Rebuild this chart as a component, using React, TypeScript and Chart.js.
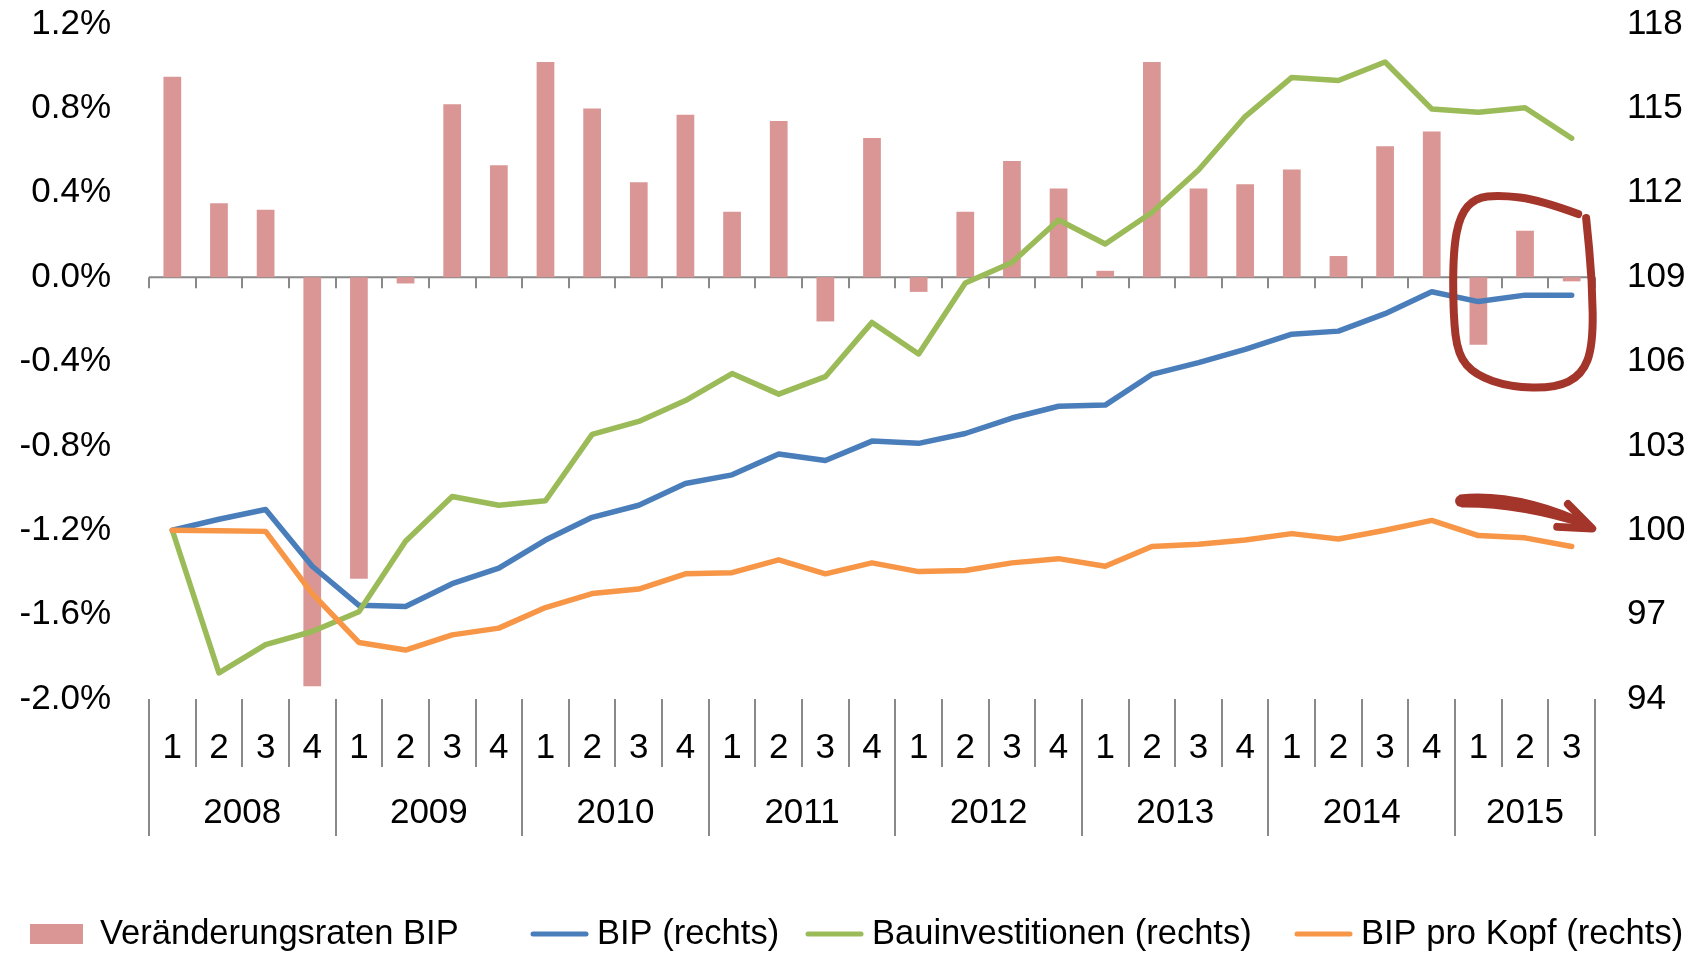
import React, { useEffect, useRef } from "react";
import { Chart, registerables } from "chart.js";

Chart.register(...registerables);

const FONT = "'Liberation Sans', Arial, sans-serif";
const GRAY = "#898989";
const ANNOT = "#A3352A";

const years = ["2008", "2009", "2010", "2011", "2012", "2013", "2014", "2015"];
const quartersPerYear = [4, 4, 4, 4, 4, 4, 4, 3];
const quarterLabels = [
  "1", "2", "3", "4", "1", "2", "3", "4", "1", "2", "3", "4", "1", "2", "3", "4",
  "1", "2", "3", "4", "1", "2", "3", "4", "1", "2", "3", "4", "1", "2", "3",
];

const changeRates = [
  0.95, 0.35, 0.32, -1.94, -1.43, -0.03, 0.82, 0.53, 1.02, 0.8, 0.45, 0.77,
  0.31, 0.74, -0.21, 0.66, -0.07, 0.31, 0.55, 0.42, 0.03, 1.02, 0.42, 0.44,
  0.51, 0.1, 0.62, 0.69, -0.32, 0.22, -0.02,
];
const bip = [
  100.0, 100.39, 100.74, 98.72, 97.33, 97.29, 98.1, 98.65, 99.65, 100.46,
  100.89, 101.66, 101.97, 102.71, 102.48, 103.17, 103.09, 103.44, 103.99,
  104.41, 104.45, 105.54, 105.96, 106.43, 106.97, 107.08, 107.7, 108.48,
  108.13, 108.36, 108.36,
];
const bauinvestitionen = [
  100.0, 94.93, 95.93, 96.4, 97.1, 99.61, 101.2, 100.89, 101.05, 103.41,
  103.87, 104.61, 105.57, 104.84, 105.46, 107.39, 106.27, 108.79, 109.52,
  111.03, 110.18, 111.3, 112.81, 114.71, 116.1, 115.99, 116.65, 114.98,
  114.86, 115.02, 113.94,
];
const bipProKopf = [
  100.0, 99.98, 99.96, 97.75, 96.01, 95.74, 96.28, 96.52, 97.25, 97.75, 97.91,
  98.45, 98.49, 98.95, 98.45, 98.84, 98.53, 98.57, 98.84, 98.99, 98.72, 99.42,
  99.5, 99.65, 99.88, 99.69, 100.0, 100.35, 99.81, 99.73, 99.42,
];

const leftTicks = [-2.0, -1.6, -1.2, -0.8, -0.4, 0.0, 0.4, 0.8, 1.2];
const rightTicks = [94, 97, 100, 103, 106, 109, 112, 115, 118];

const seriesNames = [
  "Veränderungsraten BIP",
  "BIP (rechts)",
  "Bauinvestitionen (rechts)",
  "BIP pro Kopf (rechts)",
];
const seriesColors = ["#D99694", "#4A7EBB", "#9BBB59", "#F79646"];

// legend item left positions (layout)
const legendX = [30, 531, 806, 1295];

// hand-drawn annotation ring, in (category index, left-axis value) space
const circlePts: [number, number][] = [
  [30.14, 0.299], [29.32, 0.366], [28.46, 0.389], [27.93, 0.375], [27.61, 0.295],
  [27.46, 0.129], [27.46, -0.18], [27.56, -0.369], [27.93, -0.464], [28.68, -0.521],
  [29.64, -0.526], [30.22, -0.464], [30.46, -0.322], [30.44, -0.014], [30.31, 0.28],
];
// hand-drawn arrow, in (category index, right-axis value) space
const arrowTop: [number, number][] = [[27.61, 101.22], [28.89, 101.42], [30.39, 100.24]];
const arrowBottom: [number, number][] = [[30.35, 100.1], [28.89, 100.88], [27.65, 100.86]];
const arrowHead: [number, number][] = [[29.92, 100.93], [30.44, 100.06], [29.69, 100.12]];

const yearCenters = (() => {
  let s = 0;
  return quartersPerYear.map((n) => {
    const c = s + (n - 1) / 2;
    s += n;
    return c;
  });
})();
const yearBoundaries = (() => {
  const b = [0];
  let s = 0;
  quartersPerYear.forEach((n) => {
    s += n;
    b.push(s);
  });
  return b;
})();

const axisDecor = {
  id: "axisDecor",
  beforeDatasetsDraw(chart: any) {
    const { ctx, chartArea, scales } = chart;
    const x = scales.x;
    const y0 = scales.y.getPixelForValue(0);
    const w = x.getPixelForValue(1) - x.getPixelForValue(0);
    ctx.save();
    ctx.strokeStyle = GRAY;
    ctx.lineWidth = 2;
    ctx.beginPath();
    ctx.moveTo(chartArea.left, y0);
    ctx.lineTo(chartArea.right, y0);
    for (let i = 0; i <= quarterLabels.length; i++) {
      const px = Math.round(x.getPixelForValue(i) - w / 2);
      ctx.moveTo(px, y0);
      ctx.lineTo(px, y0 + 11);
    }
    ctx.stroke();
    ctx.restore();
  },
  afterDraw(chart: any) {
    const { ctx, chartArea, scales } = chart;
    const x = scales.x;
    const w = x.getPixelForValue(1) - x.getPixelForValue(0);
    ctx.save();
    ctx.strokeStyle = GRAY;
    ctx.lineWidth = 2;
    ctx.beginPath();
    for (let i = 0; i <= quarterLabels.length; i++) {
      const px = Math.round(x.getPixelForValue(i) - w / 2);
      const isYear = yearBoundaries.includes(i);
      ctx.moveTo(px, chartArea.bottom);
      ctx.lineTo(px, isYear ? x.bottom + 69 : x.bottom);
    }
    ctx.stroke();
    ctx.restore();
  },
};

const annotations = {
  id: "annotations",
  afterDraw(chart: any) {
    const { ctx, scales } = chart;
    const xs = scales.xYear;
    const toL = (p: [number, number]) => [xs.getPixelForValue(p[0]), scales.y.getPixelForValue(p[1])];
    const toR = (p: [number, number]) => [xs.getPixelForValue(p[0]), scales.y1.getPixelForValue(p[1])];
    ctx.save();
    ctx.strokeStyle = ANNOT;
    ctx.fillStyle = ANNOT;
    ctx.lineCap = "round";
    ctx.lineJoin = "round";
    ctx.lineWidth = 8;
    const pts = circlePts.map(toL);
    ctx.beginPath();
    ctx.moveTo(pts[0][0], pts[0][1]);
    for (let i = 1; i < pts.length - 1; i++) {
      const mx = (pts[i][0] + pts[i + 1][0]) / 2;
      const my = (pts[i][1] + pts[i + 1][1]) / 2;
      ctx.quadraticCurveTo(pts[i][0], pts[i][1], mx, my);
    }
    ctx.lineTo(pts[pts.length - 1][0], pts[pts.length - 1][1]);
    ctx.stroke();

    // tapered arrow body
    const t = arrowTop.map(toR);
    const b = arrowBottom.map(toR);
    ctx.lineWidth = 3;
    ctx.beginPath();
    ctx.moveTo(t[0][0], t[0][1]);
    ctx.quadraticCurveTo(t[1][0], t[1][1], t[2][0], t[2][1]);
    ctx.lineTo(b[0][0], b[0][1]);
    ctx.quadraticCurveTo(b[1][0], b[1][1], b[2][0], b[2][1]);
    ctx.closePath();
    ctx.fill();
    ctx.stroke();
    ctx.beginPath();
    ctx.arc((t[0][0] + b[2][0]) / 2, (t[0][1] + b[2][1]) / 2, Math.abs(b[2][1] - t[0][1]) / 2 + 1, 0, Math.PI * 2);
    ctx.fill();

    const h = arrowHead.map(toR);
    ctx.lineWidth = 8;
    ctx.beginPath();
    ctx.moveTo(h[0][0], h[0][1]);
    ctx.lineTo(h[1][0], h[1][1]);
    ctx.lineTo(h[2][0], h[2][1]);
    ctx.stroke();
    ctx.restore();
  },
};

const legendPlugin = {
  id: "customLegend",
  afterDraw(chart: any) {
    const { ctx } = chart;
    const cy = 934;
    ctx.save();
    ctx.font = `34.5px ${FONT}`;
    ctx.textBaseline = "middle";
    chart.data.datasets.forEach((ds: any, i: number) => {
      const lx = legendX[i];
      let tx;
      if (ds.type === "bar") {
        ctx.fillStyle = ds.backgroundColor;
        ctx.fillRect(lx, cy - 10, 53, 20);
        tx = lx + 53 + 17;
      } else {
        ctx.strokeStyle = ds.borderColor;
        ctx.lineWidth = 5;
        ctx.lineCap = "round";
        ctx.beginPath();
        ctx.moveTo(lx + 2, cy);
        ctx.lineTo(lx + 55, cy);
        ctx.stroke();
        tx = lx + 57 + 9;
      }
      ctx.fillStyle = "#000";
      ctx.fillText(ds.label, tx, cy);
    });
    ctx.restore();
  },
};

export default function App() {
  const ref = useRef<HTMLCanvasElement>(null);
  useEffect(() => {
    if (!ref.current) return;
    const tickFont = { family: FONT, size: 35 };
    const lineDs = (label: string, data: number[], color: string, order: number) => ({
      type: "line" as const,
      label,
      data,
      borderColor: color,
      backgroundColor: color,
      borderWidth: 5.5,
      pointRadius: 0,
      tension: 0,
      yAxisID: "y1",
      xAxisID: "x",
      order,
      borderCapStyle: "round" as const,
      borderJoinStyle: "round" as const,
    });
    const noPad = (s: any) => {
      s.paddingTop = 0;
      s.paddingBottom = 0;
    };
    const chart = new Chart(ref.current, {
      type: "bar",
      data: {
        labels: quarterLabels,
        datasets: [
          {
            type: "bar",
            label: seriesNames[0],
            data: changeRates,
            backgroundColor: seriesColors[0],
            yAxisID: "y",
            xAxisID: "x",
            barPercentage: 0.38,
            categoryPercentage: 1,
            order: 4,
          } as any,
          lineDs(seriesNames[1], bip, seriesColors[1], 3),
          lineDs(seriesNames[2], bauinvestitionen, seriesColors[2], 2),
          lineDs(seriesNames[3], bipProKopf, seriesColors[3], 1),
        ],
      },
      options: {
        animation: false,
        responsive: false,
        layout: { padding: { top: 24, left: 0, right: 0, bottom: 0 } },
        plugins: { legend: { display: false }, tooltip: { enabled: false } },
        scales: {
          x: {
            type: "category",
            position: "bottom",
            offset: true,
            grid: { display: false, drawTicks: false, offset: true },
            border: { display: false },
            ticks: { autoSkip: false, maxRotation: 0, minRotation: 0, padding: 28, font: tickFont, color: "#000" },
            afterFit: (s: any) => {
              s.height = 68;
            },
          },
          xYear: {
            type: "linear",
            position: "bottom",
            offset: false,
            min: -0.5,
            max: quarterLabels.length - 0.5,
            grid: { display: false, drawTicks: false, offset: false },
            border: { display: false },
            afterBuildTicks: (s: any) => {
              s.ticks = yearCenters.map((v) => ({ value: v }));
            },
            ticks: {
              autoSkip: false,
              maxRotation: 0,
              minRotation: 0,
              padding: 25,
              font: tickFont,
              color: "#000",
              callback: (_v: any, i: number) => years[i],
            },
            afterFit: (s: any) => {
              s.height = 186;
            },
          },
          y: {
            type: "linear",
            position: "left",
            min: leftTicks[0],
            max: leftTicks[leftTicks.length - 1],
            grid: { display: false, drawTicks: false },
            border: { display: false },
            afterBuildTicks: (s: any) => {
              s.ticks = leftTicks.map((v) => ({ value: v }));
            },
            ticks: {
              padding: 38,
              font: tickFont,
              color: "#000",
              callback: (v: any) => Number(v).toFixed(1) + "%",
            },
            afterFit: (s: any) => {
              s.width = 149;
              noPad(s);
            },
          },
          y1: {
            type: "linear",
            position: "right",
            min: rightTicks[0],
            max: rightTicks[rightTicks.length - 1],
            grid: { display: false, drawTicks: false },
            border: { display: false },
            afterBuildTicks: (s: any) => {
              s.ticks = rightTicks.map((v) => ({ value: v }));
            },
            ticks: {
              padding: 32,
              font: tickFont,
              color: "#000",
              callback: (v: any) => String(v),
            },
            afterFit: (s: any) => {
              s.width = 112;
              noPad(s);
            },
          },
        },
      } as any,
      plugins: [axisDecor, annotations, legendPlugin],
    });
    return () => chart.destroy();
  }, []);

  return (
    <div style={{ position: "fixed", left: 0, top: 0, width: 1707, height: 953, background: "#fff" }}>
      <canvas ref={ref} width={1707} height={953} style={{ display: "block" }} />
    </div>
  );
}
